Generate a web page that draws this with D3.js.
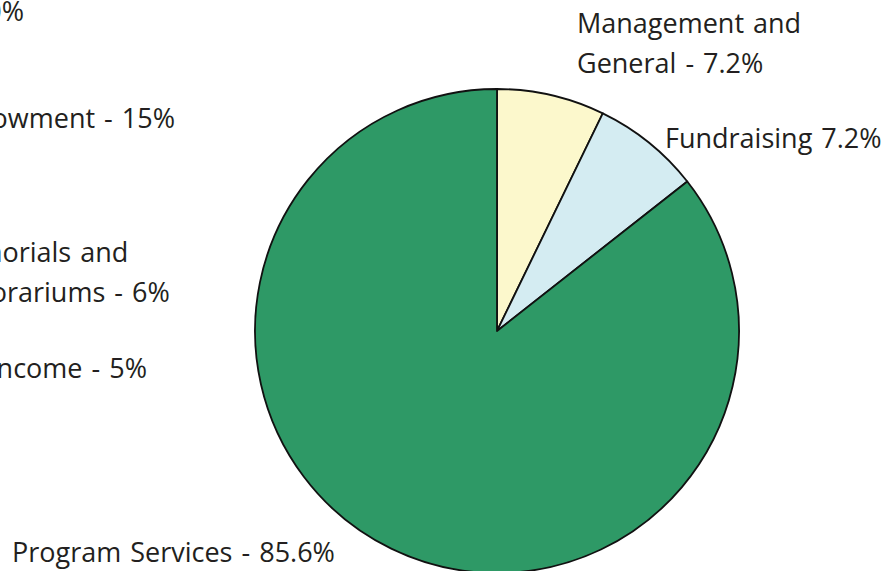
<!DOCTYPE html>
<html>
  <head>
    <meta charset="UTF-8">
    <style>
      body {
        margin: 0;
        background: white;
      }

      svg {
        display: block;
      }

      .label {
        font-family: "Open Sans", Lato, sans-serif;
        font-size: 27px;
        word-spacing: 2px;
        fill: #231f20;
      }
    </style>
    <script type="text/javascript" src="https://cdn.jsdelivr.net/npm/d3@7"></script>
  </head>

  <body>
    <svg id="Chart"></svg>

    <script type="text/javascript">
      // expenses pie (the one on screen)
      const expenseNames = ['Management and General', 'Fundraising', 'Program Services'];
      const expenseValues = [7.2, 7.2, 85.6];
      const expenseLabels = [
        ['Management and', 'General - 7.2%'],
        ['Fundraising 7.2%'],
        ['Program Services - 85.6%']
      ];
      const expenseColors = ['#fcf8cc', '#d4ecf2', '#2e9966'];

      // income labels, their pie sits off to the left of the frame
      const incomeLabels = [
        ['Contributions - 70%'],
        ['Endowment - 15%'],
        ['Memorials and', 'Honorariums - 6%'],
        ['Other Income - 5%']
      ];

      function getConfig() {
        let width = 893;
        let height = 571;
        let container = d3.select('#Chart')
          .attr('width', width)
          .attr('height', height);
        let center = {x: 497, y: 331};
        let radius = 242;
        return {width, height, container, center, radius};
      }

      function drawPie(config) {
        let {container, center, radius} = config;
        let pie = d3.pie()
          .sort(null)
          .value(d => d);
        let arc = d3.arc()
          .innerRadius(0)
          .outerRadius(radius);

        let body = container.append('g')
          .attr('transform', `translate(${center.x}, ${center.y})`);

        body.selectAll('path')
          .data(pie(expenseValues))
          .enter()
          .append('path')
          .attr('d', arc)
          .attr('fill', (d, i) => expenseColors[i])
          .attr('stroke', '#111')
          .attr('stroke-width', 1.8)
          .attr('stroke-linejoin', 'round');
      }

      // spot = [x, y, anchor]
      function drawLabels(container, labels, spots) {
        let lineHeight = 40;
        labels.forEach((lines, i) => {
          let [x, y, anchor] = spots[i];
          let text = container.append('text')
            .attr('class', 'label')
            .attr('text-anchor', anchor)
            .attr('x', x)
            .attr('y', y);
          lines.forEach((line, j) => {
            text.append('tspan')
              .attr('x', x)
              .attr('dy', j == 0 ? 0 : lineHeight)
              .text(line);
          });
        });
      }

      function showChart() {
        let config = getConfig();
        drawPie(config);
        // label spots, tuned by eye
        drawLabels(config.container, expenseLabels, [
          [577, 33, 'start'], [665, 148, 'start'], [12, 562, 'start']
        ]);
        drawLabels(config.container, incomeLabels, [
          [24, 21, 'end'], [175, 128, 'end'], [-62, 262, 'start'], [147, 378, 'end']
        ]);
      }

      showChart();
    </script>
  </body>
</html>
